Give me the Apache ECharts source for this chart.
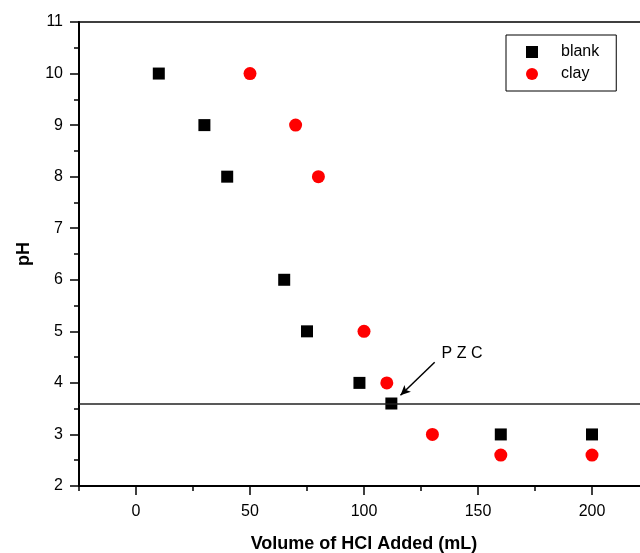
<!DOCTYPE html>
<html><head><meta charset="utf-8">
<script src="https://cdn.jsdelivr.net/npm/echarts@6/dist/echarts.min.js"></script>
<style>html,body{margin:0;padding:0;background:#fff}#c{width:640px;height:553px}</style>
</head><body><div id="c"></div>
<script>
const blankX = [10, 30, 40, 65, 75, 98, 112, 160, 200];
const blankY = [10, 9, 8, 6, 5, 4, 3.6, 3, 3];
const clayX = [50, 70, 80, 100, 110, 130, 160, 200];
const clayY = [10, 9, 8, 5, 4, 3, 2.6, 2.6];
const xMajorTicks = [0, 50, 100, 150, 200];
const xMinorTicks = [-25, 25, 75, 125, 175, 225];
const pzcLevel = 3.6;
const pzcArrow = [[131, 4.4], [116, 3.76]];
const pzcLabelAt = [143, 4.57];

const font = 'Liberation Sans, Arial, sans-serif';
const chart = echarts.init(document.getElementById('c'), null, {renderer: 'canvas'});
chart.setOption({
  animation: false,
  backgroundColor: '#fff',
  grid: {left: 79, width: 570, top: 22, height: 464, show: true, borderColor: '#000', borderWidth: 1.5, backgroundColor: 'transparent', containLabel: false, outerBoundsMode: 'none'},
  legend: {
    left: 506, top: 35, orient: 'vertical', borderColor: '#000', borderWidth: 1,
    padding: [9, 17, 9, 20], itemGap: 6, itemWidth: 12, itemHeight: 12,
    textStyle: {fontFamily: font, fontSize: 16, color: '#000', padding: [0, 0, 0, 18]},
    data: ['blank', 'clay']
  },
  xAxis: [{
    type: 'value', min: -25, max: 225,
    name: 'Volume of HCl Added (mL)', nameLocation: 'middle', nameGap: 49,
    nameTextStyle: {fontFamily: font, fontSize: 18, fontWeight: 'bold', color: '#000'},
    axisLine: {show: true, onZero: false, lineStyle: {color: '#000', width: 2}},
    axisTick: {show: true, length: 9, lineStyle: {color: '#000', width: 1.5}, customValues: xMajorTicks},
    axisLabel: {fontFamily: font, fontSize: 16, color: '#000', margin: 18, customValues: xMajorTicks},
    splitLine: {show: false}
  }, {
    type: 'value', min: -25, max: 225, position: 'bottom',
    axisLine: {show: false, onZero: false},
    axisTick: {show: true, length: 5, lineStyle: {color: '#000', width: 1.5}, customValues: xMinorTicks},
    axisLabel: {show: false},
    splitLine: {show: false}
  }],
  yAxis: {
    type: 'value', min: 2, max: 11, interval: 1,
    name: 'pH', nameLocation: 'middle', nameGap: 46,
    nameTextStyle: {fontFamily: font, fontSize: 18, fontWeight: 'bold', color: '#000'},
    axisLine: {show: true, onZero: false, lineStyle: {color: '#000', width: 2}},
    axisTick: {show: true, length: 9, lineStyle: {color: '#000', width: 1.5}},
    minorTick: {show: true, splitNumber: 2, length: 5, lineStyle: {color: '#000', width: 1.5}},
    axisLabel: {fontFamily: font, fontSize: 16, color: '#000', margin: 16},
    splitLine: {show: false}
  },
  series: [{
    name: 'blank', type: 'scatter', symbol: 'rect', symbolSize: 12,
    itemStyle: {color: '#000', opacity: 1},
    data: blankX.map((x, i) => [x, blankY[i]]),
    markLine: {
      silent: true, symbol: ['none', 'none'], animation: false,
      lineStyle: {color: '#222', width: 1.5, type: 'solid'},
      label: {show: false},
      data: [{yAxis: pzcLevel}]
    },
    z: 3
  }, {
    name: 'clay', type: 'scatter', symbol: 'circle', symbolSize: 13,
    itemStyle: {color: '#ff0000', opacity: 1},
    data: clayX.map((x, i) => [x, clayY[i]]),
    markLine: {
      silent: true, symbol: ['none', 'arrow'], symbolSize: [7, 10], animation: false,
      lineStyle: {color: '#000', width: 1.5, type: 'solid'},
      label: {show: false},
      data: [[{coord: pzcArrow[0]}, {coord: pzcArrow[1]}]]
    },
    markPoint: {
      silent: true, symbol: 'circle', symbolSize: 0, animation: false,
      label: {show: true, formatter: 'P Z C', color: '#000', fontFamily: font, fontSize: 16, position: 'inside'},
      data: [{coord: pzcLabelAt}]
    },
    z: 3
  }]
});
</script></body></html>
